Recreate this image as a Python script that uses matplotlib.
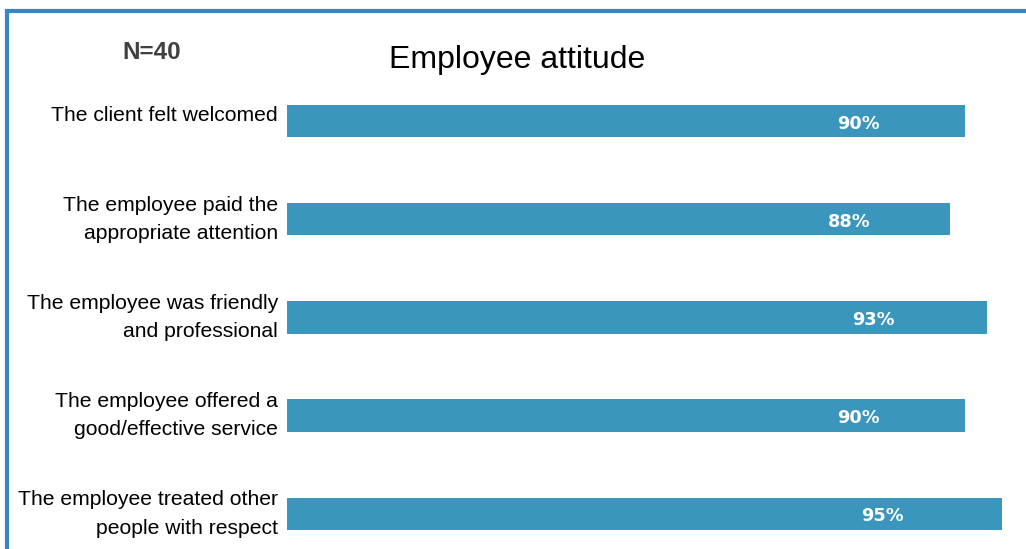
import matplotlib.pyplot as plt
from matplotlib.patches import Rectangle
import matplotlib.transforms as mtransforms

# survey answers, share of "yes" per question
questions = [
    'The client felt welcomed',
    'The employee paid the\nappropriate attention',
    'The employee was friendly\nand professional',
    'The employee offered a\ngood/effective service',
    'The employee treated other\npeople with respect',
]
shares = [90, 88, 93, 90, 95]
n_resp = 40

bar_color = '#3a96bd'
frame_color = '#3586c6'

fig = plt.figure(figsize=(10.26, 5.49), dpi=100)

# blue frame round the sheet (left and top edge)
fig.add_artist(Rectangle((0.0064, -0.05), 2.0, 1.03, transform=fig.transFigure,
                         fill=False, edgecolor=frame_color, linewidth=3))

ax = fig.add_axes([0.2797, -0.0255, 0.7339, 0.8944])
ypos = list(range(len(questions)))
ax.barh(ypos, shares, height=0.33, color=bar_color)
ax.set_xlim(0, 100)
ax.set_ylim(len(questions) - 0.5, -0.5)
ax.axis('off')

trans = mtransforms.blended_transform_factory(ax.transAxes, ax.transData)
for i, (q, v) in enumerate(zip(questions, shares)):
    t = trans
    if '\n' not in q:
        t = trans + mtransforms.ScaledTranslation(0, 4 / 72, fig.dpi_scale_trans)
    ax.text(-0.012, i, q, transform=t, ha='right', va='center',
            fontsize=15.2, family='Liberation Sans', linespacing=1.62)
    ax.text(0.64 * v + 18.3, i + 0.025, f'{v}%', ha='center', va='center',
            color='white', fontsize=12.8, fontweight='bold', family='DejaVu Sans')

fig.text(0.504, 0.89, 'Employee attitude', ha='center', va='center',
         fontsize=23, family='Liberation Sans')
fig.text(0.148, 0.905, f'N={n_resp}', ha='center', va='center',
         fontsize=17.5, fontweight='bold', color='#404040',
         family='Liberation Sans')

fig.savefig('out.png', dpi=100)
